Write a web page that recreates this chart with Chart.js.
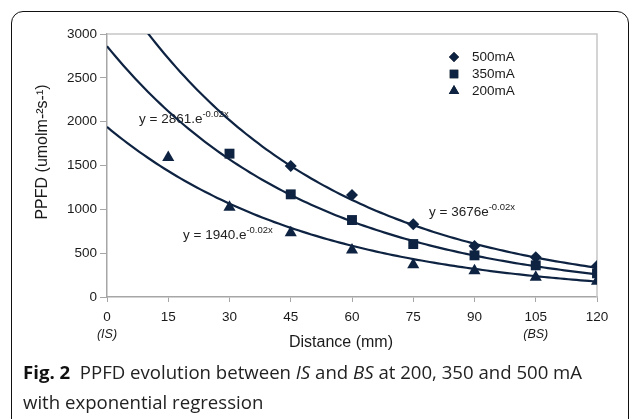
<!DOCTYPE html>
<html>
<head>
<meta charset="utf-8">
<script src="https://cdn.jsdelivr.net/npm/chart.js@4.4.1/dist/chart.umd.min.js"></script>
<style>
    html, body { margin: 0; padding: 0; background: #fff; }
    body { width: 629px; height: 419px; position: relative; overflow: hidden; }
    .frame {
        position: absolute; left: 11px; top: 11px; width: 618px; height: 430px;
        border: 1.5px solid #111; border-radius: 12px; box-sizing: border-box;
    }
    .plot { position: absolute; left: 0; top: 0; width: 629px; height: 360px; }
    .caption {
        position: absolute; left: 23px; top: 357px; width: 600px;
        font-family: "Open Sans", "Noto Sans", sans-serif; font-size: 18.6px;
        line-height: 30px; color: #222;
    }
    .caption b { color: #111; }
</style>
</head>
<body>
<div class="frame"></div>
<div class="plot"><canvas id="ppfdChart"></canvas></div>
<div class="caption"><b>Fig. 2</b>&nbsp; PPFD evolution between <i>IS</i> and <i>BS</i> at 200, 350 and 500 mA<br>with exponential regression</div>

<script>
// measured points
const distance = [0, 15, 30, 45, 60, 75, 90, 105, 120];
const series = ["500mA", "350mA", "200mA"];
const ppfd500 = [null, null, null, 1494, 1163, 830, 582, 453, 355];
const ppfd350 = [null, null, 1635, 1171, 878, 604, 475, 361, 270];
const ppfd200 = [null, 1590, 1023, 733, 536, 368, 300, 225, 180];
const markers = ["rectRot", "rect", "triangle"];

// exponential regression y = a * e^(b x)
const fitA = [3676, 2861, 1940];
const fitB = -0.02;
const fitText = ["y = 3676e", "y = 2861.e", "y = 1940.e"];
const fitExp = "-0.02x";

const xNotes = { 0: "(IS)", 105: "(BS)" };
const yTitle = "PPFD (umolm-\u00b2s-\u00b9)";
const xTitle = "Distance (mm)";

const ink = "#0e2341";
const axisGrey = "#a6a6a6";
const font = "'Liberation Sans', Arial, sans-serif";
const markerSize = [6, 7, 7];

const pts = (arr) => distance.map((d, i) => ({ x: d, y: arr[i] })).filter((p) => p.y !== null);
const curve = (a) => {
    const out = [];
    for (let x = 0; x <= 120; x += 1) out.push({ x, y: a * Math.exp(fitB * x) });
    return out;
};

const values = [ppfd500, ppfd350, ppfd200];
const datasets = [];
values.forEach((v, i) => {
    datasets.push({
        label: series[i],
        data: pts(v),
        showLine: false,
        pointStyle: markers[i],
        pointRadius: markerSize[i],
        backgroundColor: ink,
        borderColor: ink,
        borderWidth: 0,
    });
});
fitA.forEach((a) => {
    datasets.push({
        label: "fit",
        data: curve(a),
        showLine: true,
        pointRadius: 0,
        borderColor: ink,
        borderWidth: 2.2,
        tension: 0,
    });
});

// plot frame, axis titles, notes, equations and legend
const decorations = {
    id: "decorations",
    beforeDatasetsDraw(chart) {
        const { ctx, chartArea: a } = chart;
        ctx.save();
        ctx.strokeStyle = "#c6c6c6";
        ctx.lineWidth = 1.5;
        ctx.beginPath();
        ctx.moveTo(a.left, a.top);
        ctx.lineTo(a.right, a.top);
        ctx.lineTo(a.right, a.bottom);
        ctx.stroke();

        // regression equations
        const eqPos = [[429, 212], [139, 119], [183, 235]];
        fitText.forEach((t, i) => {
            const [x, y] = eqPos[i];
            ctx.fillStyle = "#222";
            ctx.font = "13.5px " + font;
            ctx.textBaseline = "middle";
            ctx.textAlign = "left";
            ctx.fillText(t, x, y);
            const w = ctx.measureText(t).width;
            ctx.font = "9.5px " + font;
            ctx.fillText(fitExp, x + w, y - 5);
        });
        ctx.restore();
    },
    afterDraw(chart) {
        const { ctx, scales } = chart;
        ctx.save();
        ctx.fillStyle = "#1a1a1a";
        ctx.textAlign = "center";
        ctx.textBaseline = "middle";

        ctx.font = "16px " + font;
        ctx.fillText(xTitle, 341, 343);
        ctx.save();
        ctx.translate(43, 152);
        ctx.rotate(-Math.PI / 2);
        ctx.fillText(yTitle, 0, 0);
        ctx.restore();

        ctx.font = "italic 12.5px " + font;
        Object.keys(xNotes).forEach((k) => {
            ctx.fillText(xNotes[k], scales.x.getPixelForValue(+k), 335);
        });

        // legend
        series.forEach((s, i) => {
            const y = 57 + i * 17;
            Chart.helpers.drawPoint(ctx, { pointStyle: markers[i], radius: markerSize[i] - 1, borderWidth: 0 }, 454, y);
            ctx.fillStyle = ink;
            ctx.fill();
            ctx.fillStyle = "#1a1a1a";
            ctx.textAlign = "left";
            ctx.font = "13.5px " + font;
            ctx.fillText(s, 472, y);
        });
        ctx.restore();
    },
};

new Chart(document.getElementById("ppfdChart"), {
    type: "scatter",
    data: { datasets },
    options: {
        responsive: true,
        maintainAspectRatio: false,
        animation: false,
        layout: { padding: { top: 34, right: 32, left: 0, bottom: 0 } },
        plugins: { legend: { display: false }, tooltip: { enabled: false } },
        scales: {
            x: {
                type: "linear",
                min: 0,
                max: 120,
                afterFit: (s) => { s.height = 63; },
                border: { color: axisGrey, width: 1.5 },
                grid: { drawOnChartArea: false, drawTicks: true, tickLength: 5, color: axisGrey },
                ticks: { stepSize: 15, padding: 7, color: "#1a1a1a", font: { family: font, size: 13.5 }, callback: (v) => String(v) },
            },
            y: {
                min: 0,
                max: 3000,
                afterFit: (s) => { s.width = 107; },
                border: { color: axisGrey, width: 1.5 },
                grid: { drawOnChartArea: false, drawTicks: true, tickLength: 7, color: axisGrey },
                ticks: { stepSize: 500, padding: 3, color: "#1a1a1a", font: { family: font, size: 13.5 }, callback: (v) => String(v) },
            },
        },
    },
    plugins: [decorations],
});
</script>
</body>
</html>
